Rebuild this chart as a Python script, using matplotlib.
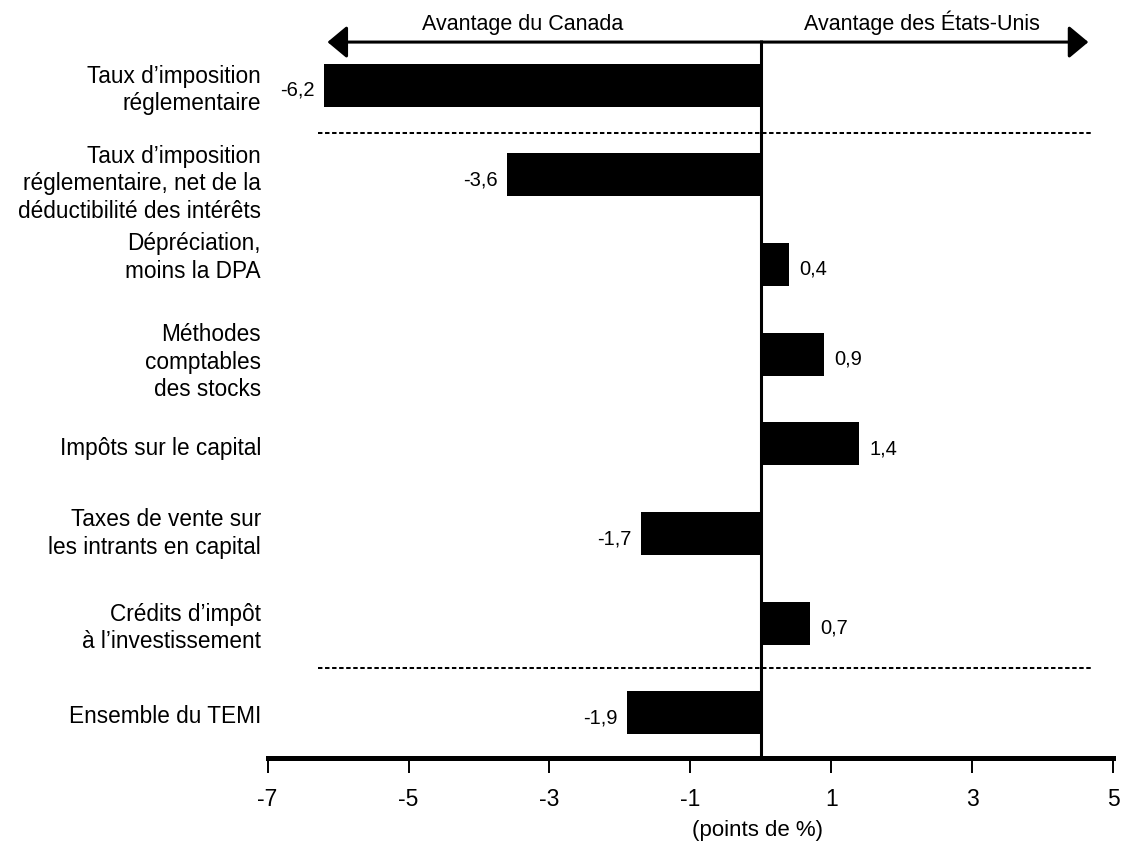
import matplotlib
matplotlib.use("Agg")
import matplotlib.pyplot as plt
from matplotlib import transforms

plt.rcParams['font.family'] = ['Liberation Sans', 'DejaVu Sans']
plt.rcParams['axes.unicode_minus'] = False

# ---- data -------------------------------------------------------------
categories = [
    "Taux d’imposition\nréglementaire",
    "Taux d’imposition\nréglementaire, net de la\ndéductibilité des intérêts",
    "Dépréciation,\nmoins la DPA",
    "Méthodes\ncomptables\ndes stocks",
    "Impôts sur le capital",
    "Taxes de vente sur\nles intrants en capital",
    "Crédits d’impôt\nà l’investissement",
    "Ensemble du TEMI",
]
values = [-6.2, -3.6, 0.4, 0.9, 1.4, -1.7, 0.7, -1.9]
xticks = [-7, -5, -3, -1, 1, 3, 5]
xtick_labels = ["-7", "-5", "-3", "-1", "1", "3", "5"]
left_note = "Avantage du Canada"
right_note = "Avantage des États-Unis"
x_title = "(points de %)"

# ---- layout -----------------------------------------------------------
W, H = 1121, 844
fig = plt.figure(figsize=(W / 100, H / 100), dpi=100)
ax = fig.add_axes([267.6 / W, 86 / H, (1113 - 267.6) / W, 758 / H])
ax.set_xlim(-7, 5)
ax.set_ylim(7.503, -0.948)

ink = "black"
rows = list(range(len(values)))

# bars
ax.barh(rows, values, height=0.48, color=ink, zorder=2)

# value labels, decimal comma
for y, v in zip(rows, values):
    txt = f"{v:.1f}".replace(".", ",")
    if v < 0:
        ax.annotate(txt, xy=(v, y), xytext=(-6.5, -7.6), textcoords="offset points",
                    ha="right", va="baseline", fontsize=14.5, color=ink)
    else:
        ax.annotate(txt, xy=(v, y), xytext=(7.2, -7.6), textcoords="offset points",
                    ha="left", va="baseline", fontsize=14.5, color=ink)

# category labels at the left of the plotting area
label_nudge_px = [5, 9, -7, 8, 5, 0, 5, 3.5]
lab_trans = transforms.blended_transform_factory(ax.transAxes, ax.transData)
for y, name, dy in zip(rows, categories, label_nudge_px):
    ax.annotate(name, xy=(0, y), xycoords=lab_trans,
                xytext=(-4.8, -dy * 0.72), textcoords="offset points",
                ha="right", va="center", fontsize=16.3, color=ink,
                linespacing=1.24, annotation_clip=False)

# dashed separators
ax.hlines([0.535, 6.5], -6.28, 4.71, colors=ink, linewidth=1.45,
          linestyles=(0, (2.2, 1.3)), zorder=1)

# zero line
ax.vlines(0, -0.502, 7.503, colors=ink, linewidth=2.2, zorder=3)

# double-headed arrow with the two notes
ax.annotate("", xy=(-6.15, -0.479), xytext=(4.65, -0.479),
            arrowprops=dict(arrowstyle="<|-|>,head_length=1.2,head_width=1.0",
                            mutation_scale=10, color=ink, lw=2.2,
                            shrinkA=0, shrinkB=0), annotation_clip=False)
ax.text(-3.375, -0.613, left_note, ha="center", va="baseline", fontsize=15.5, color=ink)
ax.text(2.29, -0.613, right_note, ha="center", va="baseline", fontsize=15.5, color=ink)

# axes styling
for side in ("left", "right", "top"):
    ax.spines[side].set_visible(False)
ax.spines["bottom"].set_linewidth(3.6)
ax.spines["bottom"].set_color(ink)
ax.set_yticks([])
ax.set_xticks(xticks)
ax.set_xticklabels(xtick_labels, fontsize=16.5)
ax.tick_params(axis="x", direction="out", length=10.5, width=1.4, pad=11, colors=ink)

ax.set_xlabel(x_title, fontsize=16, color=ink)
ax.xaxis.label.set_va("baseline")
ax.xaxis.set_label_coords(0.579, -0.1029)

fig.savefig("out.png", dpi=100)
